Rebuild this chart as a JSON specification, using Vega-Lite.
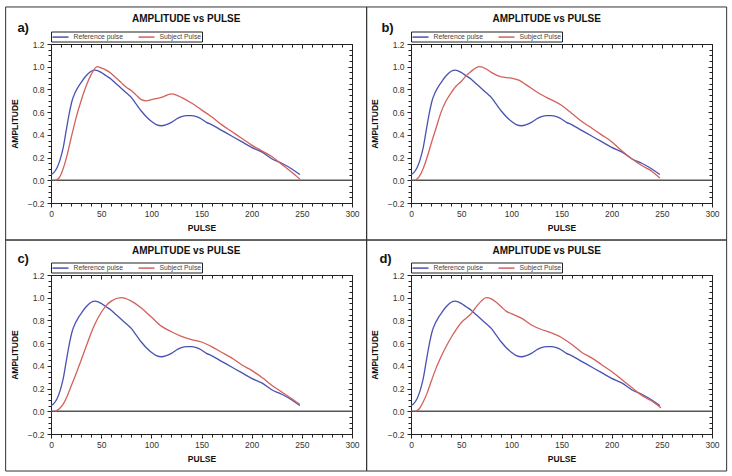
{
  "$schema": "https://vega.github.io/schema/vega-lite/v6.json",
  "background": "white",
  "padding": {"left": 4, "top": 5, "right": 4, "bottom": 4},
  "datasets": {
    "reference": [
      {"pulse": 0, "amplitude": 0.05}, {"pulse": 3, "amplitude": 0.07}, {"pulse": 6, "amplitude": 0.11},
      {"pulse": 9, "amplitude": 0.18}, {"pulse": 12, "amplitude": 0.28}, {"pulse": 15, "amplitude": 0.43},
      {"pulse": 18, "amplitude": 0.58}, {"pulse": 21, "amplitude": 0.7}, {"pulse": 24, "amplitude": 0.77},
      {"pulse": 27, "amplitude": 0.82}, {"pulse": 30, "amplitude": 0.86}, {"pulse": 35, "amplitude": 0.92},
      {"pulse": 40, "amplitude": 0.96}, {"pulse": 44, "amplitude": 0.97}, {"pulse": 50, "amplitude": 0.95},
      {"pulse": 55, "amplitude": 0.92}, {"pulse": 60, "amplitude": 0.89}, {"pulse": 65, "amplitude": 0.85},
      {"pulse": 70, "amplitude": 0.81}, {"pulse": 75, "amplitude": 0.77}, {"pulse": 80, "amplitude": 0.73},
      {"pulse": 85, "amplitude": 0.67}, {"pulse": 90, "amplitude": 0.61}, {"pulse": 95, "amplitude": 0.56},
      {"pulse": 100, "amplitude": 0.52}, {"pulse": 105, "amplitude": 0.49}, {"pulse": 110, "amplitude": 0.48},
      {"pulse": 115, "amplitude": 0.49}, {"pulse": 120, "amplitude": 0.51}, {"pulse": 125, "amplitude": 0.54},
      {"pulse": 130, "amplitude": 0.56}, {"pulse": 135, "amplitude": 0.57}, {"pulse": 140, "amplitude": 0.57},
      {"pulse": 145, "amplitude": 0.56}, {"pulse": 150, "amplitude": 0.54}, {"pulse": 155, "amplitude": 0.51},
      {"pulse": 160, "amplitude": 0.49}, {"pulse": 170, "amplitude": 0.44}, {"pulse": 180, "amplitude": 0.39},
      {"pulse": 190, "amplitude": 0.34}, {"pulse": 200, "amplitude": 0.29}, {"pulse": 210, "amplitude": 0.25},
      {"pulse": 220, "amplitude": 0.19}, {"pulse": 230, "amplitude": 0.15}, {"pulse": 240, "amplitude": 0.1},
      {"pulse": 248, "amplitude": 0.05}
    ],
    "subjectA": [
      {"pulse": 4, "amplitude": 0.0}, {"pulse": 8, "amplitude": 0.02}, {"pulse": 12, "amplitude": 0.1},
      {"pulse": 16, "amplitude": 0.22}, {"pulse": 20, "amplitude": 0.37}, {"pulse": 25, "amplitude": 0.55},
      {"pulse": 30, "amplitude": 0.7}, {"pulse": 35, "amplitude": 0.83}, {"pulse": 40, "amplitude": 0.93},
      {"pulse": 46, "amplitude": 1.0}, {"pulse": 50, "amplitude": 0.99}, {"pulse": 55, "amplitude": 0.97},
      {"pulse": 60, "amplitude": 0.94}, {"pulse": 65, "amplitude": 0.9}, {"pulse": 70, "amplitude": 0.86},
      {"pulse": 75, "amplitude": 0.82}, {"pulse": 80, "amplitude": 0.79}, {"pulse": 85, "amplitude": 0.75},
      {"pulse": 90, "amplitude": 0.71}, {"pulse": 95, "amplitude": 0.7}, {"pulse": 100, "amplitude": 0.71},
      {"pulse": 110, "amplitude": 0.73}, {"pulse": 120, "amplitude": 0.76}, {"pulse": 125, "amplitude": 0.75},
      {"pulse": 130, "amplitude": 0.73}, {"pulse": 140, "amplitude": 0.68}, {"pulse": 150, "amplitude": 0.62},
      {"pulse": 160, "amplitude": 0.56}, {"pulse": 170, "amplitude": 0.49}, {"pulse": 180, "amplitude": 0.43},
      {"pulse": 190, "amplitude": 0.37}, {"pulse": 200, "amplitude": 0.31}, {"pulse": 210, "amplitude": 0.26},
      {"pulse": 220, "amplitude": 0.21}, {"pulse": 230, "amplitude": 0.14}, {"pulse": 240, "amplitude": 0.07},
      {"pulse": 248, "amplitude": 0.01}
    ],
    "subjectB": [
      {"pulse": 4, "amplitude": 0.0}, {"pulse": 8, "amplitude": 0.03}, {"pulse": 12, "amplitude": 0.1},
      {"pulse": 16, "amplitude": 0.2}, {"pulse": 20, "amplitude": 0.32}, {"pulse": 25, "amplitude": 0.46},
      {"pulse": 30, "amplitude": 0.6}, {"pulse": 35, "amplitude": 0.7}, {"pulse": 40, "amplitude": 0.77},
      {"pulse": 45, "amplitude": 0.83}, {"pulse": 50, "amplitude": 0.87}, {"pulse": 55, "amplitude": 0.92},
      {"pulse": 60, "amplitude": 0.96}, {"pulse": 68, "amplitude": 1.0}, {"pulse": 75, "amplitude": 0.98},
      {"pulse": 80, "amplitude": 0.95}, {"pulse": 90, "amplitude": 0.91}, {"pulse": 100, "amplitude": 0.9},
      {"pulse": 108, "amplitude": 0.88}, {"pulse": 115, "amplitude": 0.84}, {"pulse": 125, "amplitude": 0.78},
      {"pulse": 135, "amplitude": 0.73}, {"pulse": 150, "amplitude": 0.66}, {"pulse": 160, "amplitude": 0.59},
      {"pulse": 170, "amplitude": 0.52}, {"pulse": 180, "amplitude": 0.46}, {"pulse": 190, "amplitude": 0.4},
      {"pulse": 200, "amplitude": 0.34}, {"pulse": 210, "amplitude": 0.26}, {"pulse": 220, "amplitude": 0.19},
      {"pulse": 230, "amplitude": 0.13}, {"pulse": 240, "amplitude": 0.08}, {"pulse": 248, "amplitude": 0.02}
    ],
    "subjectC": [
      {"pulse": 4, "amplitude": 0.0}, {"pulse": 8, "amplitude": 0.02}, {"pulse": 12, "amplitude": 0.06},
      {"pulse": 16, "amplitude": 0.13}, {"pulse": 20, "amplitude": 0.22}, {"pulse": 25, "amplitude": 0.33},
      {"pulse": 30, "amplitude": 0.45}, {"pulse": 35, "amplitude": 0.57}, {"pulse": 40, "amplitude": 0.69},
      {"pulse": 45, "amplitude": 0.79}, {"pulse": 50, "amplitude": 0.87}, {"pulse": 55, "amplitude": 0.93},
      {"pulse": 60, "amplitude": 0.97}, {"pulse": 70, "amplitude": 1.0}, {"pulse": 80, "amplitude": 0.97},
      {"pulse": 90, "amplitude": 0.91}, {"pulse": 100, "amplitude": 0.83}, {"pulse": 110, "amplitude": 0.75},
      {"pulse": 120, "amplitude": 0.7}, {"pulse": 130, "amplitude": 0.66}, {"pulse": 140, "amplitude": 0.63},
      {"pulse": 150, "amplitude": 0.61}, {"pulse": 160, "amplitude": 0.57}, {"pulse": 170, "amplitude": 0.52},
      {"pulse": 180, "amplitude": 0.47}, {"pulse": 190, "amplitude": 0.41}, {"pulse": 200, "amplitude": 0.36},
      {"pulse": 210, "amplitude": 0.3}, {"pulse": 220, "amplitude": 0.23}, {"pulse": 230, "amplitude": 0.17},
      {"pulse": 240, "amplitude": 0.11}, {"pulse": 248, "amplitude": 0.06}
    ],
    "subjectD": [
      {"pulse": 4, "amplitude": 0.0}, {"pulse": 8, "amplitude": 0.02}, {"pulse": 12, "amplitude": 0.08},
      {"pulse": 16, "amplitude": 0.16}, {"pulse": 20, "amplitude": 0.26}, {"pulse": 25, "amplitude": 0.38},
      {"pulse": 30, "amplitude": 0.48}, {"pulse": 35, "amplitude": 0.57}, {"pulse": 40, "amplitude": 0.65},
      {"pulse": 45, "amplitude": 0.72}, {"pulse": 50, "amplitude": 0.78}, {"pulse": 55, "amplitude": 0.82},
      {"pulse": 60, "amplitude": 0.86}, {"pulse": 65, "amplitude": 0.92}, {"pulse": 70, "amplitude": 0.97},
      {"pulse": 75, "amplitude": 1.0}, {"pulse": 80, "amplitude": 0.99}, {"pulse": 85, "amplitude": 0.96},
      {"pulse": 90, "amplitude": 0.92}, {"pulse": 95, "amplitude": 0.88}, {"pulse": 100, "amplitude": 0.86},
      {"pulse": 110, "amplitude": 0.82}, {"pulse": 120, "amplitude": 0.76}, {"pulse": 130, "amplitude": 0.72},
      {"pulse": 140, "amplitude": 0.69}, {"pulse": 150, "amplitude": 0.65}, {"pulse": 160, "amplitude": 0.59},
      {"pulse": 170, "amplitude": 0.52}, {"pulse": 180, "amplitude": 0.47}, {"pulse": 190, "amplitude": 0.41},
      {"pulse": 200, "amplitude": 0.35}, {"pulse": 210, "amplitude": 0.28}, {"pulse": 220, "amplitude": 0.21},
      {"pulse": 230, "amplitude": 0.14}, {"pulse": 240, "amplitude": 0.09}, {"pulse": 249, "amplitude": 0.03}
    ]
  },
  "columns": 2,
  "spacing": {"row": 72, "column": 59},
  "bounds": "flush",
  "resolve": {"scale": {"color": "independent"}, "legend": {"color": "independent"}},
  "concat": [
    {
      "width": 301, "height": 159,
      "title": {"text": "AMPLITUDE vs PULSE", "offset": -17.2},
      "resolve": {"axis": {"x": "independent", "y": "independent"}},
      "layer": [
        {
          "data": {"values": [{}]},
          "mark": {"type": "rect", "filled": false, "stroke": "#333", "strokeWidth": 1},
          "encoding": {
            "x": {"datum": -45.2, "type": "quantitative", "scale": {"domain": [0, 300], "nice": false, "zero": false}, "axis": null},
            "x2": {"datum": 314.6},
            "y": {"datum": 1.526, "type": "quantitative", "scale": {"domain": [-0.2, 1.2], "nice": false, "zero": false}, "axis": null},
            "y2": {"datum": -0.526}
          }
        },
        {
          "data": {"values": [{}]},
          "mark": {"type": "rule", "color": "#555", "strokeWidth": 1.5},
          "encoding": {
            "y": {"datum": 0, "type": "quantitative", "scale": {"domain": [-0.2, 1.2], "nice": false, "zero": false}, "axis": null}
          }
        },
        {
          "data": {"name": "reference"},
          "mark": {"type": "line", "interpolate": "monotone", "strokeWidth": 1.3},
          "encoding": {
            "x": {"field": "pulse", "type": "quantitative", "scale": {"domain": [0, 300], "nice": false, "zero": false},
              "axis": {"title": "PULSE", "values": [0,10,20,30,40,50,60,70,80,90,100,110,120,130,140,150,160,170,180,190,200,210,220,230,240,250,260,270,280,290,300],
                "labelExpr": "datum.value % 50 === 0 ? datum.label : ''",
                "tickSize": {"condition": {"test": "datum.value % 50 === 0", "value": 4}, "value": 3},
                "labelPadding": 2, "titlePadding": 6}},
            "y": {"field": "amplitude", "type": "quantitative", "scale": {"domain": [-0.2, 1.2], "nice": false, "zero": false},
              "axis": {"title": "AMPLITUDE", "values": [-0.2,-0.15,-0.1,-0.05,0,0.05,0.1,0.15,0.2,0.25,0.3,0.35,0.4,0.45,0.5,0.55,0.6,0.65,0.7,0.75,0.8,0.85,0.9,0.95,1,1.05,1.1,1.15,1.2],
                "labelExpr": "abs(round(datum.value*100)) % 20 === 0 ? format(datum.value, '.1f') : ''",
                "tickSize": {"condition": {"test": "abs(round(datum.value*100)) % 20 === 0", "value": 4}, "value": 3},
                "labelPadding": 3, "titlePadding": 8}},
            "color": {"datum": "Reference pulse", "type": "nominal",
              "scale": {"domain": ["Reference pulse", "Subject Pulse"], "range": ["#4a52b0", "#d4605a"]},
              "legend": {"orient": "none", "legendX": 0, "legendY": -12.5}}
          }
        },
        {
          "data": {"name": "subjectA"},
          "mark": {"type": "line", "interpolate": "monotone", "strokeWidth": 1.3},
          "encoding": {
            "x": {"field": "pulse", "type": "quantitative", "scale": {"domain": [0, 300], "nice": false, "zero": false},
              "axis": {"orient": "top", "title": null, "labels": false, "domain": false, "values": [0,10,20,30,40,50,60,70,80,90,100,110,120,130,140,150,160,170,180,190,200,210,220,230,240,250,260,270,280,290,300],
                "tickSize": {"condition": {"test": "datum.value % 50 === 0", "value": -4}, "value": -3}}},
            "y": {"field": "amplitude", "type": "quantitative", "scale": {"domain": [-0.2, 1.2], "nice": false, "zero": false},
              "axis": {"orient": "right", "title": null, "labels": false, "domain": false, "values": [-0.2,-0.15,-0.1,-0.05,0,0.05,0.1,0.15,0.2,0.25,0.3,0.35,0.4,0.45,0.5,0.55,0.6,0.65,0.7,0.75,0.8,0.85,0.9,0.95,1,1.05,1.1,1.15,1.2],
                "tickSize": {"condition": {"test": "abs(round(datum.value*100)) % 20 === 0", "value": -4}, "value": -3}}},
            "color": {"datum": "Subject Pulse", "type": "nominal",
              "scale": {"domain": ["Reference pulse", "Subject Pulse"], "range": ["#4a52b0", "#d4605a"]}}
          }
        },
        {
          "data": {"values": [{"label": "a)"}]},
          "mark": {"type": "text", "align": "left", "baseline": "alphabetic", "fontSize": 13, "fontWeight": "bold", "color": "#111"},
          "encoding": {
            "x": {"datum": -33.5, "type": "quantitative", "scale": {"domain": [0, 300], "nice": false, "zero": false}, "axis": null},
            "y": {"datum": 1.308, "type": "quantitative", "scale": {"domain": [-0.2, 1.2], "nice": false, "zero": false}, "axis": null},
            "text": {"field": "label"}
          }
        }
      ]
    },
    {
      "width": 301, "height": 159,
      "title": {"text": "AMPLITUDE vs PULSE", "offset": -17.2},
      "resolve": {"axis": {"x": "independent", "y": "independent"}},
      "layer": [
        {
          "data": {"values": [{}]},
          "mark": {"type": "rect", "filled": false, "stroke": "#333", "strokeWidth": 1},
          "encoding": {
            "x": {"datum": -44.2, "type": "quantitative", "scale": {"domain": [0, 300], "nice": false, "zero": false}, "axis": null},
            "x2": {"datum": 314.6},
            "y": {"datum": 1.526, "type": "quantitative", "scale": {"domain": [-0.2, 1.2], "nice": false, "zero": false}, "axis": null},
            "y2": {"datum": -0.526}
          }
        },
        {
          "data": {"values": [{}]},
          "mark": {"type": "rule", "color": "#555", "strokeWidth": 1.5},
          "encoding": {
            "y": {"datum": 0, "type": "quantitative", "scale": {"domain": [-0.2, 1.2], "nice": false, "zero": false}, "axis": null}
          }
        },
        {
          "data": {"name": "reference"},
          "mark": {"type": "line", "interpolate": "monotone", "strokeWidth": 1.3},
          "encoding": {
            "x": {"field": "pulse", "type": "quantitative", "scale": {"domain": [0, 300], "nice": false, "zero": false},
              "axis": {"title": "PULSE", "values": [0,10,20,30,40,50,60,70,80,90,100,110,120,130,140,150,160,170,180,190,200,210,220,230,240,250,260,270,280,290,300],
                "labelExpr": "datum.value % 50 === 0 ? datum.label : ''",
                "tickSize": {"condition": {"test": "datum.value % 50 === 0", "value": 4}, "value": 3},
                "labelPadding": 2, "titlePadding": 6}},
            "y": {"field": "amplitude", "type": "quantitative", "scale": {"domain": [-0.2, 1.2], "nice": false, "zero": false},
              "axis": {"title": "AMPLITUDE", "values": [-0.2,-0.15,-0.1,-0.05,0,0.05,0.1,0.15,0.2,0.25,0.3,0.35,0.4,0.45,0.5,0.55,0.6,0.65,0.7,0.75,0.8,0.85,0.9,0.95,1,1.05,1.1,1.15,1.2],
                "labelExpr": "abs(round(datum.value*100)) % 20 === 0 ? format(datum.value, '.1f') : ''",
                "tickSize": {"condition": {"test": "abs(round(datum.value*100)) % 20 === 0", "value": 4}, "value": 3},
                "labelPadding": 3, "titlePadding": 8}},
            "color": {"datum": "Reference pulse", "type": "nominal",
              "scale": {"domain": ["Reference pulse", "Subject Pulse"], "range": ["#4a52b0", "#d4605a"]},
              "legend": {"orient": "none", "legendX": 0, "legendY": -12.5}}
          }
        },
        {
          "data": {"name": "subjectB"},
          "mark": {"type": "line", "interpolate": "monotone", "strokeWidth": 1.3},
          "encoding": {
            "x": {"field": "pulse", "type": "quantitative", "scale": {"domain": [0, 300], "nice": false, "zero": false},
              "axis": {"orient": "top", "title": null, "labels": false, "domain": false, "values": [0,10,20,30,40,50,60,70,80,90,100,110,120,130,140,150,160,170,180,190,200,210,220,230,240,250,260,270,280,290,300],
                "tickSize": {"condition": {"test": "datum.value % 50 === 0", "value": -4}, "value": -3}}},
            "y": {"field": "amplitude", "type": "quantitative", "scale": {"domain": [-0.2, 1.2], "nice": false, "zero": false},
              "axis": {"orient": "right", "title": null, "labels": false, "domain": false, "values": [-0.2,-0.15,-0.1,-0.05,0,0.05,0.1,0.15,0.2,0.25,0.3,0.35,0.4,0.45,0.5,0.55,0.6,0.65,0.7,0.75,0.8,0.85,0.9,0.95,1,1.05,1.1,1.15,1.2],
                "tickSize": {"condition": {"test": "abs(round(datum.value*100)) % 20 === 0", "value": -4}, "value": -3}}},
            "color": {"datum": "Subject Pulse", "type": "nominal",
              "scale": {"domain": ["Reference pulse", "Subject Pulse"], "range": ["#4a52b0", "#d4605a"]}}
          }
        },
        {
          "data": {"values": [{"label": "b)"}]},
          "mark": {"type": "text", "align": "left", "baseline": "alphabetic", "fontSize": 13, "fontWeight": "bold", "color": "#111"},
          "encoding": {
            "x": {"datum": -29.5, "type": "quantitative", "scale": {"domain": [0, 300], "nice": false, "zero": false}, "axis": null},
            "y": {"datum": 1.308, "type": "quantitative", "scale": {"domain": [-0.2, 1.2], "nice": false, "zero": false}, "axis": null},
            "text": {"field": "label"}
          }
        }
      ]
    },
    {
      "width": 301, "height": 159,
      "title": {"text": "AMPLITUDE vs PULSE", "offset": -16.2},
      "resolve": {"axis": {"x": "independent", "y": "independent"}},
      "layer": [
        {
          "data": {"values": [{}]},
          "mark": {"type": "rect", "filled": false, "stroke": "#333", "strokeWidth": 1},
          "encoding": {
            "x": {"datum": -45.2, "type": "quantitative", "scale": {"domain": [0, 300], "nice": false, "zero": false}, "axis": null},
            "x2": {"datum": 314.6},
            "y": {"datum": 1.508, "type": "quantitative", "scale": {"domain": [-0.2, 1.2], "nice": false, "zero": false}, "axis": null},
            "y2": {"datum": -0.526}
          }
        },
        {
          "data": {"values": [{}]},
          "mark": {"type": "rule", "color": "#555", "strokeWidth": 1.5},
          "encoding": {
            "y": {"datum": 0, "type": "quantitative", "scale": {"domain": [-0.2, 1.2], "nice": false, "zero": false}, "axis": null}
          }
        },
        {
          "data": {"name": "reference"},
          "mark": {"type": "line", "interpolate": "monotone", "strokeWidth": 1.3},
          "encoding": {
            "x": {"field": "pulse", "type": "quantitative", "scale": {"domain": [0, 300], "nice": false, "zero": false},
              "axis": {"title": "PULSE", "values": [0,10,20,30,40,50,60,70,80,90,100,110,120,130,140,150,160,170,180,190,200,210,220,230,240,250,260,270,280,290,300],
                "labelExpr": "datum.value % 50 === 0 ? datum.label : ''",
                "tickSize": {"condition": {"test": "datum.value % 50 === 0", "value": 4}, "value": 3},
                "labelPadding": 2, "titlePadding": 6}},
            "y": {"field": "amplitude", "type": "quantitative", "scale": {"domain": [-0.2, 1.2], "nice": false, "zero": false},
              "axis": {"title": "AMPLITUDE", "values": [-0.2,-0.15,-0.1,-0.05,0,0.05,0.1,0.15,0.2,0.25,0.3,0.35,0.4,0.45,0.5,0.55,0.6,0.65,0.7,0.75,0.8,0.85,0.9,0.95,1,1.05,1.1,1.15,1.2],
                "labelExpr": "abs(round(datum.value*100)) % 20 === 0 ? format(datum.value, '.1f') : ''",
                "tickSize": {"condition": {"test": "abs(round(datum.value*100)) % 20 === 0", "value": 4}, "value": 3},
                "labelPadding": 3, "titlePadding": 8}},
            "color": {"datum": "Reference pulse", "type": "nominal",
              "scale": {"domain": ["Reference pulse", "Subject Pulse"], "range": ["#4a52b0", "#d4605a"]},
              "legend": {"orient": "none", "legendX": 0, "legendY": -12.5}}
          }
        },
        {
          "data": {"name": "subjectC"},
          "mark": {"type": "line", "interpolate": "monotone", "strokeWidth": 1.3},
          "encoding": {
            "x": {"field": "pulse", "type": "quantitative", "scale": {"domain": [0, 300], "nice": false, "zero": false},
              "axis": {"orient": "top", "title": null, "labels": false, "domain": false, "values": [0,10,20,30,40,50,60,70,80,90,100,110,120,130,140,150,160,170,180,190,200,210,220,230,240,250,260,270,280,290,300],
                "tickSize": {"condition": {"test": "datum.value % 50 === 0", "value": -4}, "value": -3}}},
            "y": {"field": "amplitude", "type": "quantitative", "scale": {"domain": [-0.2, 1.2], "nice": false, "zero": false},
              "axis": {"orient": "right", "title": null, "labels": false, "domain": false, "values": [-0.2,-0.15,-0.1,-0.05,0,0.05,0.1,0.15,0.2,0.25,0.3,0.35,0.4,0.45,0.5,0.55,0.6,0.65,0.7,0.75,0.8,0.85,0.9,0.95,1,1.05,1.1,1.15,1.2],
                "tickSize": {"condition": {"test": "abs(round(datum.value*100)) % 20 === 0", "value": -4}, "value": -3}}},
            "color": {"datum": "Subject Pulse", "type": "nominal",
              "scale": {"domain": ["Reference pulse", "Subject Pulse"], "range": ["#4a52b0", "#d4605a"]}}
          }
        },
        {
          "data": {"values": [{"label": "c)"}]},
          "mark": {"type": "text", "align": "left", "baseline": "alphabetic", "fontSize": 13, "fontWeight": "bold", "color": "#111"},
          "encoding": {
            "x": {"datum": -33.5, "type": "quantitative", "scale": {"domain": [0, 300], "nice": false, "zero": false}, "axis": null},
            "y": {"datum": 1.31, "type": "quantitative", "scale": {"domain": [-0.2, 1.2], "nice": false, "zero": false}, "axis": null},
            "text": {"field": "label"}
          }
        }
      ]
    },
    {
      "width": 301, "height": 159,
      "title": {"text": "AMPLITUDE vs PULSE", "offset": -16.2},
      "resolve": {"axis": {"x": "independent", "y": "independent"}},
      "layer": [
        {
          "data": {"values": [{}]},
          "mark": {"type": "rect", "filled": false, "stroke": "#333", "strokeWidth": 1},
          "encoding": {
            "x": {"datum": -44.2, "type": "quantitative", "scale": {"domain": [0, 300], "nice": false, "zero": false}, "axis": null},
            "x2": {"datum": 314.6},
            "y": {"datum": 1.508, "type": "quantitative", "scale": {"domain": [-0.2, 1.2], "nice": false, "zero": false}, "axis": null},
            "y2": {"datum": -0.526}
          }
        },
        {
          "data": {"values": [{}]},
          "mark": {"type": "rule", "color": "#555", "strokeWidth": 1.5},
          "encoding": {
            "y": {"datum": 0, "type": "quantitative", "scale": {"domain": [-0.2, 1.2], "nice": false, "zero": false}, "axis": null}
          }
        },
        {
          "data": {"name": "reference"},
          "mark": {"type": "line", "interpolate": "monotone", "strokeWidth": 1.3},
          "encoding": {
            "x": {"field": "pulse", "type": "quantitative", "scale": {"domain": [0, 300], "nice": false, "zero": false},
              "axis": {"title": "PULSE", "values": [0,10,20,30,40,50,60,70,80,90,100,110,120,130,140,150,160,170,180,190,200,210,220,230,240,250,260,270,280,290,300],
                "labelExpr": "datum.value % 50 === 0 ? datum.label : ''",
                "tickSize": {"condition": {"test": "datum.value % 50 === 0", "value": 4}, "value": 3},
                "labelPadding": 2, "titlePadding": 6}},
            "y": {"field": "amplitude", "type": "quantitative", "scale": {"domain": [-0.2, 1.2], "nice": false, "zero": false},
              "axis": {"title": "AMPLITUDE", "values": [-0.2,-0.15,-0.1,-0.05,0,0.05,0.1,0.15,0.2,0.25,0.3,0.35,0.4,0.45,0.5,0.55,0.6,0.65,0.7,0.75,0.8,0.85,0.9,0.95,1,1.05,1.1,1.15,1.2],
                "labelExpr": "abs(round(datum.value*100)) % 20 === 0 ? format(datum.value, '.1f') : ''",
                "tickSize": {"condition": {"test": "abs(round(datum.value*100)) % 20 === 0", "value": 4}, "value": 3},
                "labelPadding": 3, "titlePadding": 8}},
            "color": {"datum": "Reference pulse", "type": "nominal",
              "scale": {"domain": ["Reference pulse", "Subject Pulse"], "range": ["#4a52b0", "#d4605a"]},
              "legend": {"orient": "none", "legendX": 0, "legendY": -12.5}}
          }
        },
        {
          "data": {"name": "subjectD"},
          "mark": {"type": "line", "interpolate": "monotone", "strokeWidth": 1.3},
          "encoding": {
            "x": {"field": "pulse", "type": "quantitative", "scale": {"domain": [0, 300], "nice": false, "zero": false},
              "axis": {"orient": "top", "title": null, "labels": false, "domain": false, "values": [0,10,20,30,40,50,60,70,80,90,100,110,120,130,140,150,160,170,180,190,200,210,220,230,240,250,260,270,280,290,300],
                "tickSize": {"condition": {"test": "datum.value % 50 === 0", "value": -4}, "value": -3}}},
            "y": {"field": "amplitude", "type": "quantitative", "scale": {"domain": [-0.2, 1.2], "nice": false, "zero": false},
              "axis": {"orient": "right", "title": null, "labels": false, "domain": false, "values": [-0.2,-0.15,-0.1,-0.05,0,0.05,0.1,0.15,0.2,0.25,0.3,0.35,0.4,0.45,0.5,0.55,0.6,0.65,0.7,0.75,0.8,0.85,0.9,0.95,1,1.05,1.1,1.15,1.2],
                "tickSize": {"condition": {"test": "abs(round(datum.value*100)) % 20 === 0", "value": -4}, "value": -3}}},
            "color": {"datum": "Subject Pulse", "type": "nominal",
              "scale": {"domain": ["Reference pulse", "Subject Pulse"], "range": ["#4a52b0", "#d4605a"]}}
          }
        },
        {
          "data": {"values": [{"label": "d)"}]},
          "mark": {"type": "text", "align": "left", "baseline": "alphabetic", "fontSize": 13, "fontWeight": "bold", "color": "#111"},
          "encoding": {
            "x": {"datum": -31.5, "type": "quantitative", "scale": {"domain": [0, 300], "nice": false, "zero": false}, "axis": null},
            "y": {"datum": 1.31, "type": "quantitative", "scale": {"domain": [-0.2, 1.2], "nice": false, "zero": false}, "axis": null},
            "text": {"field": "label"}
          }
        }
      ]
    }
  ],
  "config": {
    "font": "Liberation Sans",
    "view": {"stroke": "#222", "strokeWidth": 1},
    "axis": {
      "grid": false, "domainColor": "#222", "tickColor": "#222", "tickWidth": 1,
      "labelFont": "Liberation Sans", "labelFontSize": 8.5, "labelColor": "#333",
      "titleFont": "Liberation Sans", "titleFontSize": 8.5, "titleFontWeight": "bold", "titleColor": "#111",
      "labelFlush": false, "labelOverlap": false
    },
    "title": {"font": "Liberation Sans", "fontSize": 10, "fontWeight": "bold", "color": "#111", "anchor": "middle", "frame": "bounds", "baseline": "alphabetic"},
    "legend": {
      "direction": "horizontal", "title": null, "strokeColor": "#222", "padding": 0.5,
      "symbolType": "M-1,0H3", "symbolSize": 64, "symbolStrokeWidth": 1.5,
      "labelFont": "Liberation Sans", "labelFontSize": 6.8, "labelColor": "#444",
      "columnPadding": 12, "labelOffset": 12
    }
  }
}
